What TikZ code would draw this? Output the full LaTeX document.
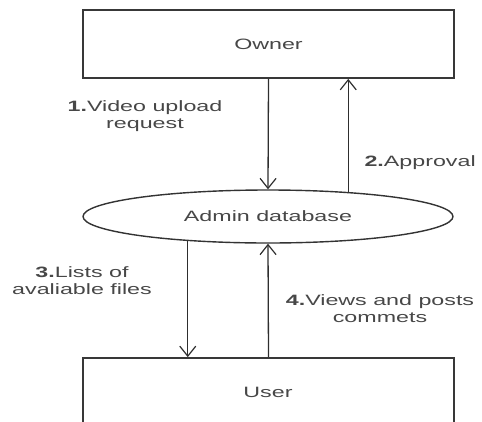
\documentclass[tikz,border=0pt]{standalone}
\usepackage{fontspec}
\setmainfont[FakeStretch=1.55]{Liberation Sans}
\usetikzlibrary{arrows.meta,shapes.geometric}
\begin{document}
\begin{tikzpicture}[x=1pt,y=1pt,
  every node/.style={font=\fontsize{15}{17}\selectfont, text=black!72},
  entity/.style={draw=black!78, line width=1.8pt, minimum width=371pt, inner sep=0pt},
  store/.style={ellipse, draw=black!80, line width=1.4pt, minimum width=370pt, minimum height=53pt, inner sep=0pt},
  flow/.style={draw=black!82, line width=1.3pt, -{Straight Barb[length=10pt,width=16pt,line width=1.2pt]}},
  lbl/.style={align=center}]
\useasboundingbox (0,0) rectangle (482,-421);
\node[entity, minimum height=68pt] (owner) at (268.5,-44) {Owner};
\node[store] (db) at (268,-216.5) {Admin database};
\node[entity, minimum height=100pt] (user) at (268.5,-408) {};
\node at (268,-392) (usertext) {User};
\draw[flow] (owner.south) -- (db.north);
\draw[flow] (db.17.4) -- (db.17.4 |- owner.south);
\draw[flow] (db.197.9) -- (db.197.9 |- user.north);
\draw[flow] (user.north) -- (db.south);
\node[lbl] (l1) at (145,-116) {\textbf{1.}Video upload\\request};
\node[lbl, anchor=west] (l2) at (361,-163) {\textbf{2.}Approval};
\node[lbl] (l3) at (82,-281) {\textbf{3.}Lists of\\avaliable files};
\node[lbl] (l4) at (380,-309) {\textbf{4.}Views and posts\\commets};
\end{tikzpicture}
\end{document}
